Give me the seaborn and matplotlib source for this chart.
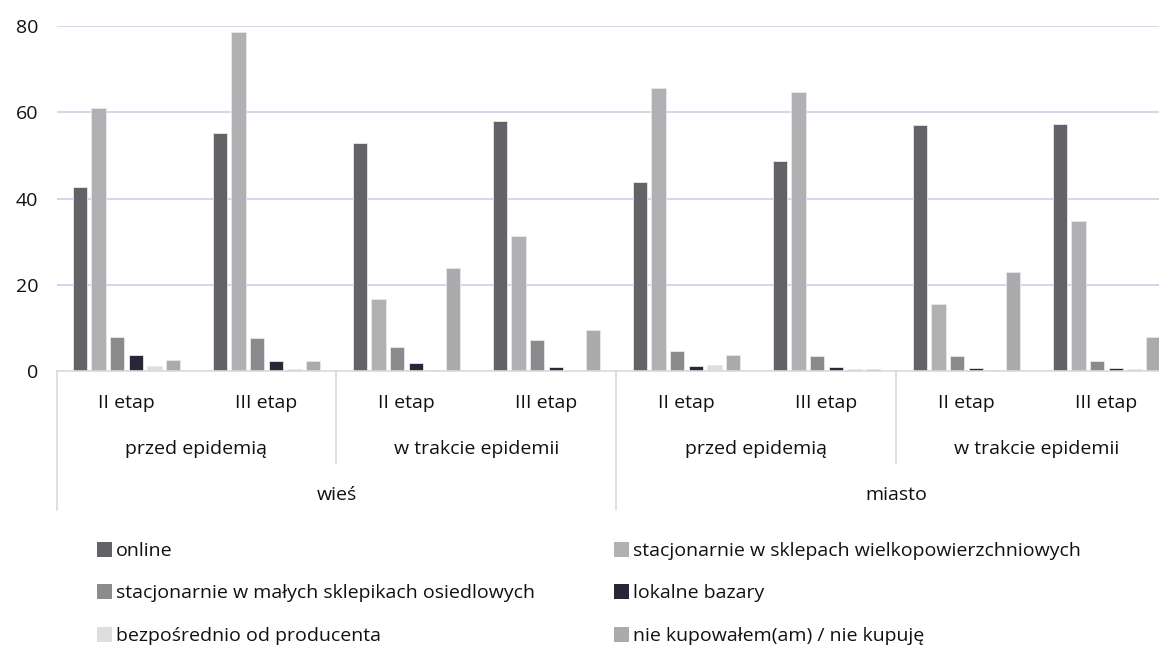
import matplotlib
matplotlib.use("Agg")
import matplotlib.pyplot as plt
import matplotlib.transforms as mtransforms
import seaborn as sns
import pandas as pd
from matplotlib.patches import Patch

# kategorie osi X (trzy poziomy)
stages = ["II etap", "III etap"] * 4
periods = ["przed epidemią", "w trakcie epidemii"] * 2
places = ["wieś", "miasto"]

series = ["online",
          "stacjonarnie w sklepach wielkopowierzchniowych",
          "stacjonarnie w małych sklepikach osiedlowych",
          "lokalne bazary",
          "bezpośrednio od producenta",
          "nie kupowałem(am) / nie kupuję"]

online = [42.6, 55.3, 52.9, 58.0, 43.8, 48.8, 57.0, 57.2]
wielkopow = [61.0, 78.6, 16.6, 31.4, 65.6, 64.7, 15.6, 34.8]
osiedlowe = [8.0, 7.6, 5.5, 7.1, 4.6, 3.5, 3.5, 2.4]
bazary = [3.6, 2.3, 1.9, 1.0, 1.2, 0.9, 0.7, 0.8]
producent = [1.2, 0.4, 0.2, 0.1, 1.4, 0.35, 0.2, 0.35]
nie_kupuje = [2.5, 2.3, 24.0, 9.6, 3.6, 0.35, 23.0, 7.8]

colors = ["#636267", "#b1b1b3", "#8b8b8d", "#272738", "#dedede", "#ababad"]

rows = []
for s, vals in zip(series, [online, wielkopow, osiedlowe, bazary, producent, nie_kupuje]):
    for i, v in enumerate(vals):
        rows.append({"cat": i, "series": s, "value": v})
df = pd.DataFrame(rows)

sns.set_theme(style="white")
plt.rcParams["font.family"] = ["Open Sans", "DejaVu Sans"]
FS = 14
TXT = "#111111"

fig = plt.figure(figsize=(11.59, 6.48), dpi=100)
ax = fig.add_axes([56.5 / 1159, 1 - 371 / 648, 1120 / 1159, 345 / 648])

sns.barplot(data=df, x="cat", y="value", hue="series", hue_order=series,
            palette=colors, width=0.8, gap=0.22, ax=ax, legend=False,
            edgecolor="#e8e8e8", linewidth=0.6, saturation=1)

ax.set_xlim(-0.5, 7.5)
ax.set_ylim(0, 80)
ax.set_yticks([0, 20, 40, 60, 80])
ax.set_yticklabels(["0", "20", "40", "60", "80"], fontsize=FS, color=TXT)
ax.tick_params(axis="y", length=0, pad=13)
ax.set_xticks([])
ax.set_xlabel("")
ax.set_ylabel("")
for sp in ["top", "right", "left"]:
    ax.spines[sp].set_visible(False)
ax.spines["bottom"].set_color("#d9d9d9")
ax.spines["bottom"].set_linewidth(1.2)
for yv in [20, 40, 60, 80]:
    ax.axhline(yv, color="#d4d0f0", lw=1.3, zorder=0)

# etykiety hierarchiczne
trans = mtransforms.blended_transform_factory(ax.transData, fig.transFigure)
def fy(px):
    return 1 - px / 648

for i, st in enumerate(stages):
    ax.text(i, fy(403), st, transform=trans, ha="center", va="center", fontsize=FS, color=TXT)
for j, p in enumerate(periods):
    ax.text(2 * j + 0.5, fy(449), p, transform=trans, ha="center", va="center", fontsize=FS, color=TXT)
for k, pl in enumerate(places):
    ax.text(4 * k + 1.5, fy(495), pl, transform=trans, ha="center", va="center", fontsize=FS, color=TXT)

for xv, ybot in [(-0.5, 510), (1.5, 464), (3.5, 510), (5.5, 464)]:
    ax.plot([xv, xv], [fy(371), fy(ybot)], transform=trans, color="#d9d9d9",
            lw=1.2, clip_on=False)

# legenda w dwóch kolumnach (wypełniana wierszami)
handles = [Patch(facecolor=c, edgecolor="none") for c in colors]
for col, x0 in [(0, 87), (1, 604)]:
    idx = [col, col + 2, col + 4]
    leg = fig.legend([handles[i] for i in idx], [series[i] for i in idx],
                     loc="upper left", bbox_to_anchor=(x0 / 1159, 1 - 532 / 648),
                     frameon=False, fontsize=FS, handlelength=0.8, handleheight=0.8,
                     handletextpad=0.2, labelspacing=1.25, borderpad=0)
    for t in leg.get_texts():
        t.set_color(TXT)

fig.savefig("out.png", dpi=100)
